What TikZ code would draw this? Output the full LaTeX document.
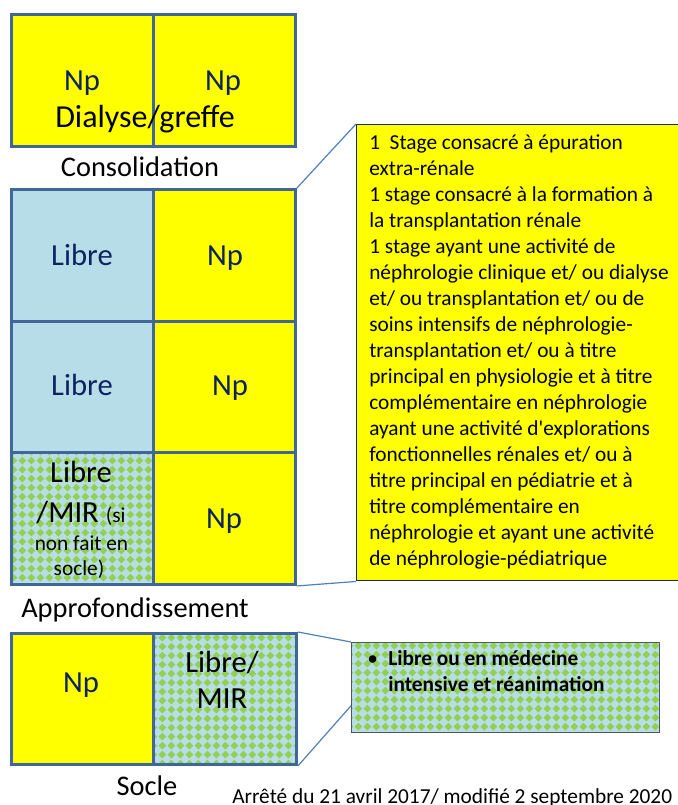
\documentclass[tikz,border=0pt]{standalone}
\usepackage{fontspec}
\setmainfont{Carlito}
\usetikzlibrary{patterns,calc}
\definecolor{yel}{HTML}{FFFF00}
\definecolor{lblue}{HTML}{B7DEE8}
\definecolor{pgreen}{HTML}{92D050}
\definecolor{bord}{HTML}{41669A}
\definecolor{navy}{HTML}{0D2360}
\definecolor{cline}{HTML}{4F81BD}
\definecolor{cbord}{HTML}{1A2A4A}
\definecolor{sbord}{HTML}{555555}
\pgfdeclarepatternformonly{diamgrid}{\pgfpointorigin}{\pgfpoint{7pt}{7pt}}{\pgfpoint{7pt}{7pt}}{%
  \pgfpathmoveto{\pgfpoint{3.5pt}{0.4pt}}%
  \pgfpathlineto{\pgfpoint{6.6pt}{3.5pt}}%
  \pgfpathlineto{\pgfpoint{3.5pt}{6.6pt}}%
  \pgfpathlineto{\pgfpoint{0.4pt}{3.5pt}}%
  \pgfpathclose\pgfusepath{fill}}
\tikzset{
  cell/.style={draw=bord, line width=2.2pt, minimum width=106.5pt, minimum height=99pt, anchor=north west, inner sep=0pt},
  yc/.style={cell, fill=yel},
  bc/.style={cell, fill=lblue},
  pc/.style={cell, preaction={fill=lblue}, pattern=diamgrid, pattern color=pgreen},
  bigt/.style={font=\fontsize{23}{27}\selectfont, anchor=base, inner sep=0pt},
  np/.style={bigt, text=navy},
  smallt/.style={font=\fontsize{16}{19}\selectfont, anchor=base, inner sep=0pt},
  lbl/.style={font=\fontsize{21.3}{25}\selectfont, anchor=base, inner sep=0pt},
  callline/.style={draw=cline, line width=0.9pt},
}
\begin{document}
\begin{tikzpicture}[x=0.75pt, y=-0.75pt]
\fill[white] (0,0) rectangle (677,805);
\useasboundingbox (0,0) rectangle (677,805);
% top block
\node[yc] (tl) at (10,13) {};
\node[yc] (tr) at (152,13) {};
\node[np] (tlnp) at (82,91) {Np};
\node[np] (trnp) at (223,91) {Np};
\node[bigt, font=\fontsize{24}{28}\selectfont] (dg) at (145,128) {Dialyse/greffe};
\node[lbl] (cons) at (140,177) {Consolidation};
% consolidation block
\node[bc] (c1l) at (10,188) {};
\node[yc] (c1r) at (152,188) {};
\node[bc, minimum height=98.25pt] (c2l) at (10,320) {};
\node[yc, minimum height=98.25pt] (c2r) at (152,320) {};
\node[pc] (c3l) at (10,451) {};
\node[yc] (c3r) at (152,451) {};
\node[np] (c1lt) at (82,266) {Libre};
\node[np] (c1rt) at (225,266) {Np};
\node[np] (c2lt) at (82,395) {Libre};
\node[np] (c2rt) at (230,395) {Np};
\node[bigt] (c3la) at (81,482) {Libre};
\node[bigt] (c3lb) at (81,522) {/MIR {\fontsize{16}{19}\selectfont (si}};
\node[smallt] (c3lc) at (81.5,550) {non fait en};
\node[smallt] (c3ld) at (79,575) {socle)};
\node[np] (c3rt) at (224,528) {Np};
\node[lbl] (appr) at (135,617) {Approfondissement};
% socle block
\node[yc, minimum height=98.25pt] (bl) at (10,632) {};
\node[pc, minimum height=98.25pt, minimum width=107.25pt] (br) at (152,632) {};
\node[np] (blt) at (81,692) {Np};
\node[bigt] (brta) at (222,672) {Libre/};
\node[bigt] (brtb) at (222,708) {MIR};
\node[lbl] (socle) at (147,795) {Socle};
\node[font=\fontsize{16}{19}\selectfont, anchor=base west, inner sep=0pt] (date) at (232,803) {Arrêté du 21 avril 2017/ modifié 2 septembre 2020};
% big callout
\node[draw=cbord, line width=1.1pt, fill=yel, anchor=north west, minimum width=243pt, minimum height=342pt, inner sep=0pt] (big) at (356,124) {};
\node[font=\fontsize{16}{19.5}\selectfont, anchor=base west, inner sep=0pt] (bigtxt) at (369,149.3) {\parbox[t]{240pt}{\raggedright
1\ \ Stage consacré à épuration\\
extra-rénale\\
1 stage consacré à la formation à\\
la transplantation rénale\\
1 stage ayant une activité de\\
néphrologie clinique et/ ou dialyse\\
et/ ou transplantation et/ ou de\\
soins intensifs de néphrologie-\\
transplantation et/ ou à titre\\
principal en physiologie et à titre\\
complémentaire en néphrologie\\
ayant une activité d\textquotesingle explorations\\
fonctionnelles rénales et/ ou à\\
titre principal en pédiatrie et à\\
titre complémentaire en\\
néphrologie et ayant une activité\\
de néphrologie-pédiatrique}};
% small callout
\node[draw=sbord, line width=0.8pt, preaction={fill=lblue}, pattern=diamgrid, pattern color=pgreen, anchor=north west, minimum width=231pt, minimum height=67.5pt, inner sep=0pt] (small) at (351,642) {};
\node[font=\fontsize{16}{20}\selectfont, anchor=base west, inner sep=0pt] (bul) at (367,665) {•};
\node[font=\bfseries\fontsize{16}{20}\selectfont, anchor=base west, inner sep=0pt] (smtxt) at (388,665) {\parbox[t]{220pt}{\raggedright Libre ou en médecine\\intensive et réanimation}};
% callout connectors
\coordinate (smallw) at ($(small.north west)!0.7!(small.south west)$);
\draw[callline] (c1r.north east) -- (big.north west);
\draw[callline] (c3r.south east) -- (big.south west);
\draw[callline] (br.north east) -- (small.north west);
\draw[callline] (br.south east) -- (smallw);
\end{tikzpicture}
\end{document}
